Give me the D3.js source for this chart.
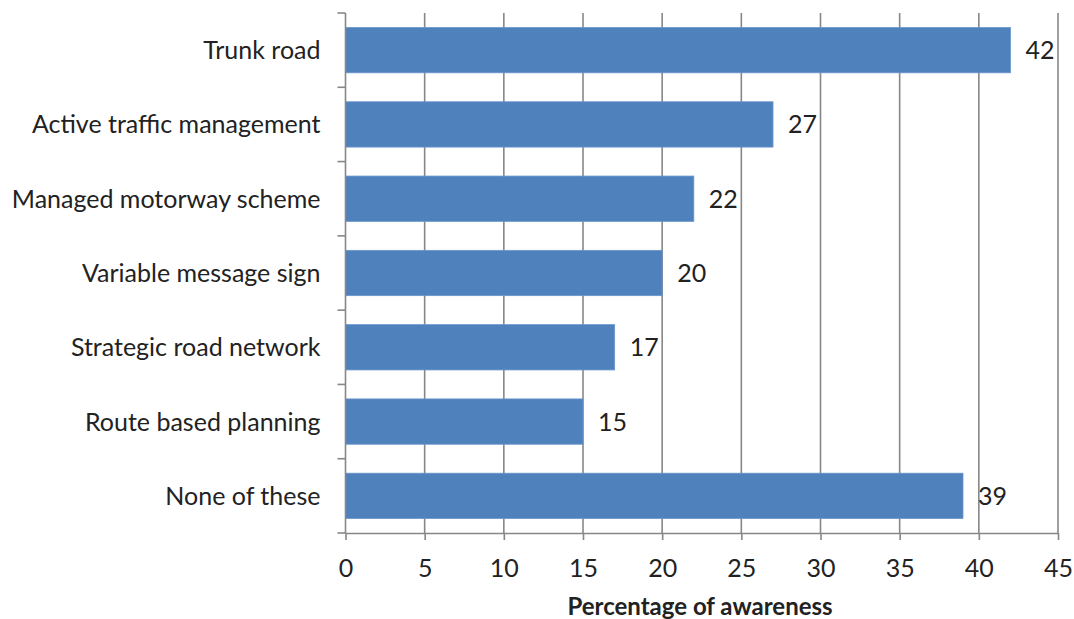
<!DOCTYPE html>
<html>
<head>
<meta charset="utf-8">
<script src="https://cdn.jsdelivr.net/npm/d3@7"></script>
<style>
  html, body { margin: 0; padding: 0; background: #fff; }
  svg { display: block; }
  text { font-family: Lato, "Open Sans", sans-serif; fill: #222; }
</style>
</head>
<body>
<svg id="chart" width="1074" height="619"></svg>
<script>
// Awareness of road terminology (percentage of respondents)
const categories = [
  "Trunk road",
  "Active traffic management",
  "Managed motorway scheme",
  "Variable message sign",
  "Strategic road network",
  "Route based planning",
  "None of these"
];
const values = [42, 27, 22, 20, 17, 15, 39];
const xTicks = [0, 5, 10, 15, 20, 25, 30, 35, 40, 45];
const xTitle = "Percentage of awareness";

const svg = d3.select("#chart");
const margin = { left: 345.5, right: 16, top: 13, bottom: 86 };
const W = 1074, H = 619;
const fontSize = 25;

const x = d3.scaleLinear().domain([0, 45]).range([margin.left, W - margin.right]);
const y = d3.scaleBand().domain(categories).range([margin.top, H - margin.bottom]).paddingInner(0.39).paddingOuter(0.195);

const gridColor = "#878787";

// vertical gridlines
svg.append("g")
  .selectAll("line")
  .data(xTicks.slice(1))
  .join("line")
  .attr("x1", d => x(d)).attr("x2", d => x(d))
  .attr("y1", margin.top).attr("y2", H - margin.bottom)
  .attr("stroke", gridColor).attr("stroke-width", 1.6);

// bars
svg.append("g")
  .selectAll("rect")
  .data(categories)
  .join("rect")
  .attr("x", x(0))
  .attr("y", d => y(d))
  .attr("width", (d, i) => x(values[i]) - x(0))
  .attr("height", y.bandwidth())
  .attr("fill", "#4F81BD")
  .attr("stroke", "#6a96cc")
  .attr("stroke-width", 0.8);

// value labels
svg.append("g")
  .selectAll("text")
  .data(categories)
  .join("text")
  .attr("x", (d, i) => x(values[i]) + 15)
  .attr("y", d => y(d) + y.bandwidth() / 2)
  .attr("dy", "0.36em")
  .attr("font-size", fontSize)
  .text((d, i) => values[i]);

// x axis
const xAxis = svg.append("g")
  .attr("transform", `translate(0,${H - margin.bottom})`)
  .call(d3.axisBottom(x).tickValues(xTicks).tickSize(7).tickPadding(19).tickSizeOuter(0));
xAxis.select(".domain").attr("stroke", gridColor).attr("stroke-width", 1.6);
xAxis.selectAll(".tick line").attr("stroke", gridColor).attr("stroke-width", 1.6);
xAxis.selectAll(".tick text").attr("font-size", fontSize).attr("font-family", "Lato, 'Open Sans', sans-serif").attr("fill", "#222");

// y axis with ticks at band boundaries
const yAxisG = svg.append("g");
yAxisG.append("line")
  .attr("x1", x(0)).attr("x2", x(0))
  .attr("y1", margin.top).attr("y2", H - margin.bottom)
  .attr("stroke", gridColor).attr("stroke-width", 1.6);
const boundaries = d3.range(categories.length + 1).map(i => margin.top + i * (H - margin.bottom - margin.top) / categories.length);
yAxisG.selectAll(".bt")
  .data(boundaries)
  .join("line")
  .attr("class", "bt")
  .attr("x1", x(0) - 8).attr("x2", x(0))
  .attr("y1", d => d).attr("y2", d => d)
  .attr("stroke", gridColor).attr("stroke-width", 1.6);

// category labels
yAxisG.selectAll("text")
  .data(categories)
  .join("text")
  .attr("x", x(0) - 25)
  .attr("y", d => y(d) + y.bandwidth() / 2)
  .attr("dy", "0.36em")
  .attr("text-anchor", "end")
  .attr("font-size", fontSize)
  .text(d => d);

// axis title
svg.append("text")
  .attr("x", 700)
  .attr("y", 615)
  .attr("text-anchor", "middle")
  .attr("font-size", 24)
  .attr("font-weight", "bold")
  .text(xTitle);
</script>
</body>
</html>
